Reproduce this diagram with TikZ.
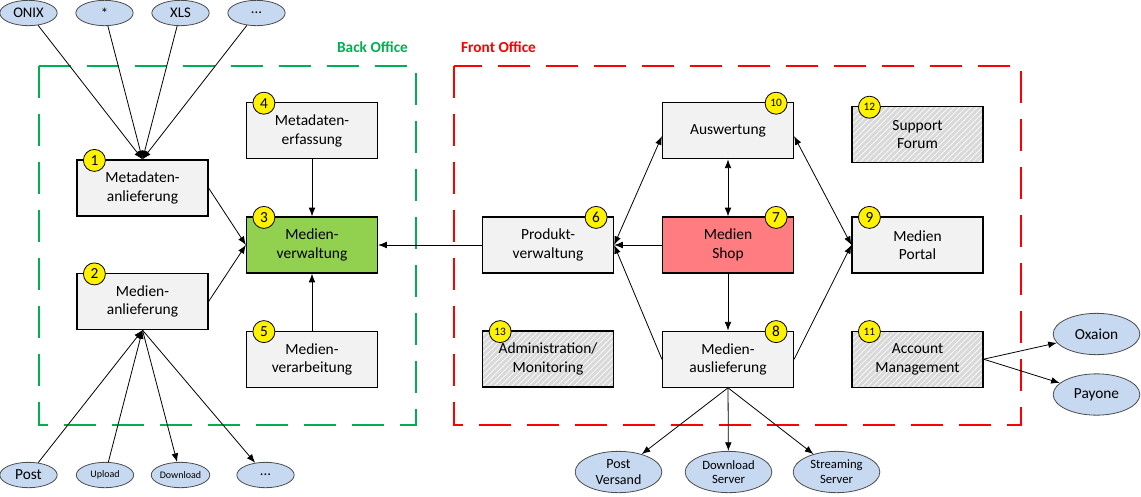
\documentclass[tikz,border=0pt]{standalone}
\usepackage{fontspec}
\setmainfont{Carlito}
\usetikzlibrary{shapes.geometric, positioning, patterns.meta}
\usetikzlibrary{arrows.meta}
\tikzset{>={Latex[width=5pt,length=6.5pt]}}
\definecolor{boxgray}{HTML}{F2F2F2}
\definecolor{verwgreen}{HTML}{92D050}
\definecolor{shopred}{HTML}{FF7C80}
\definecolor{hatchgray}{HTML}{D9D9D9}
\definecolor{blobblue}{HTML}{C6D9F1}
\definecolor{backgreen}{HTML}{00B050}
\definecolor{frontred}{HTML}{FF0000}

\begin{document}
\begin{tikzpicture}[x=0.75pt, y=-0.75pt, node distance=42.75pt,
    box/.style={rectangle, draw=black, line width=0.9pt, fill=boxgray, minimum width=98.25pt, minimum height=42pt, align=center, font=\fontsize{11.6}{13.75}\selectfont},
    hatchbox/.style={box, fill=none, preaction={fill=hatchgray}, pattern={Lines[angle=45, distance=3pt, line width=0.5pt]}, pattern color=white},
    badge/.style={circle, draw=black, line width=0.6pt, fill=yellow, minimum size=16.5pt, inner sep=0pt, font=\fontsize{11.5}{11.5}\selectfont},
    smallbadge/.style={badge, font=\fontsize{8.5}{8.5}\selectfont},
    blob/.style={ellipse, draw=black!70, line width=0.6pt, fill=blobblue, inner sep=0pt, minimum width=43pt, minimum height=19pt, font=\fontsize{11}{11}\selectfont},
    bigblob/.style={blob, minimum width=65pt, minimum height=31pt, align=center, font=\fontsize{9.5}{11}\selectfont},
    conn/.style={->, line width=0.6pt},
    office/.style={dash pattern=on 24pt off 12pt, line width=1.5pt}]

    \useasboundingbox (0,0) rectangle (1141,496);

    %Areas
    \draw[office, backgreen] (39,66) rectangle (416,425);
    \draw[office, frontred] (454,66) rectangle (1021,425);
    \node[text=backgreen, font=\fontsize{11.5}{11.5}\selectfont\bfseries] (backlabel) at (372.5,47) {Back Office};
    \node[text=frontred, font=\fontsize{11.5}{11.5}\selectfont\bfseries] (frontlabel) at (498.5,47) {Front Office};

    %Back office nodes
    \node[box](metaanl) at (142.5,188) {Metadaten-\\anlieferung};
    \node[box](medanl) at (142.5,301.5) {Medien-\\anlieferung};
    \node[box, fill=verwgreen](verw) at (312,245) {Medien-\\verwaltung};
    \node[box](metaerf)[above=of verw] {Metadaten-\\erfassung};
    \node[box](verarb)[below=of verw] {Medien-\\verarbeitung};

    %Front office nodes
    \node[box](produkt) at (548,245) {Produkt-\\verwaltung};
    \node[box, fill=shopred](shop) at (728,245) {Medien\\Shop};
    \node[box](auswert)[above=of shop] {Auswertung};
    \node[box](auslief)[below=of shop] {Medien-\\auslieferung};
    \node[hatchbox](admin)[below=of produkt] {Administration/\\Monitoring};
    \node[box](portal) at (917.5,245) {Medien\\Portal};
    \node[hatchbox](forum)[above=39.75pt of portal] {Support\\Forum};
    \node[hatchbox](account)[below=of portal] {Account\\Management};

    %Sources and targets
    \node[blob](onix) at (28.5,13) {ONIX};
    \node[blob](stern) at (104.5,13) {*};
    \node[blob](xls) at (180.5,13) {XLS};
    \node[blob](mehr) at (256.5,13) {...};
    \node[blob, font=\fontsize{11.5}{11.5}\selectfont](post) at (28.5,475) {Post};
    \node[blob, font=\fontsize{7.5}{8}\selectfont](upload) at (105,475) {Upload};
    \node[blob, font=\fontsize{7.5}{8}\selectfont](download) at (180.5,475) {Download};
    \node[blob](weitere) at (265.5,475) {...};
    \node[bigblob, font=\fontsize{10.5}{12.5}\selectfont](versand) at (618.5,472) {Post\\Versand};
    \node[bigblob](dlserver) at (728.5,472) {Download\\Server};
    \node[bigblob](streaming) at (836.5,472) {Streaming\\Server};
    \node[bigblob, font=\fontsize{11.5}{11.5}\selectfont](oxaion) at (1096.5,334) {Oxaion};
    \node[bigblob, font=\fontsize{11.5}{11.5}\selectfont](payone) at (1096.5,394.5) {Payone};

    %Numbers
    \node[badge](n1) at ([shift={(18,1)}]metaanl.north west) {1};
    \node[badge](n2) at ([shift={(18,1)}]medanl.north west) {2};
    \node[badge](n3) at ([shift={(18,1)}]verw.north west) {3};
    \node[badge](n4) at ([shift={(18,1)}]metaerf.north west) {4};
    \node[badge](n5) at ([shift={(18,1)}]verarb.north west) {5};
    \node[badge](n6) at ([shift={(-18,1)}]produkt.north east) {6};
    \node[badge](n7) at ([shift={(-18,1)}]shop.north east) {7};
    \node[badge](n8) at ([shift={(-18,1)}]auslief.north east) {8};
    \node[badge](n9) at ([shift={(18,1)}]portal.north west) {9};
    \node[smallbadge](n10) at ([shift={(-18,1)}]auswert.north east) {10};
    \node[smallbadge](n11) at ([shift={(18,1)}]account.north west) {11};
    \node[smallbadge](n12) at ([shift={(18,1)}]forum.north west) {12};
    \node[smallbadge](n13) at ([shift={(18,1)}]admin.north west) {13};

    %Lines
    \foreach \src in {onix, stern, xls, mehr}
        \draw[conn] (\src) -- (metaanl.north);
    \draw[conn] (metaanl.east) -- (verw.west);
    \draw[conn] (medanl.east) -- (verw.west);
    \draw[conn] (metaerf) -- (verw);
    \draw[conn] (verarb) -- (verw);
    \draw[conn] (produkt) -- (verw);
    \foreach \src in {post, upload}
        \draw[conn] (\src) -- (medanl.south);
    \foreach \dst in {download, weitere}
        \draw[conn] (medanl.south) -- (\dst);

    \draw[conn] (shop) -- (produkt);
    \draw[conn, <->] ([yshift=-4pt]auswert.west) -- (produkt.east);
    \draw[conn] (auslief.west) -- (produkt.east);
    \draw[conn, <->] (shop) -- (auswert);
    \draw[conn] (shop) -- (auslief);
    \draw[conn, <->] ([yshift=-4pt]auswert.east) -- (portal.west);
    \draw[conn] (auslief.east) -- (portal.west);
    \draw[conn] (account.east) -- (oxaion);
    \draw[conn] (account.east) -- (payone);
    \foreach \dst in {versand, dlserver, streaming}
        \draw[conn] (auslief.south) -- (\dst);

\end{tikzpicture}
\end{document}
